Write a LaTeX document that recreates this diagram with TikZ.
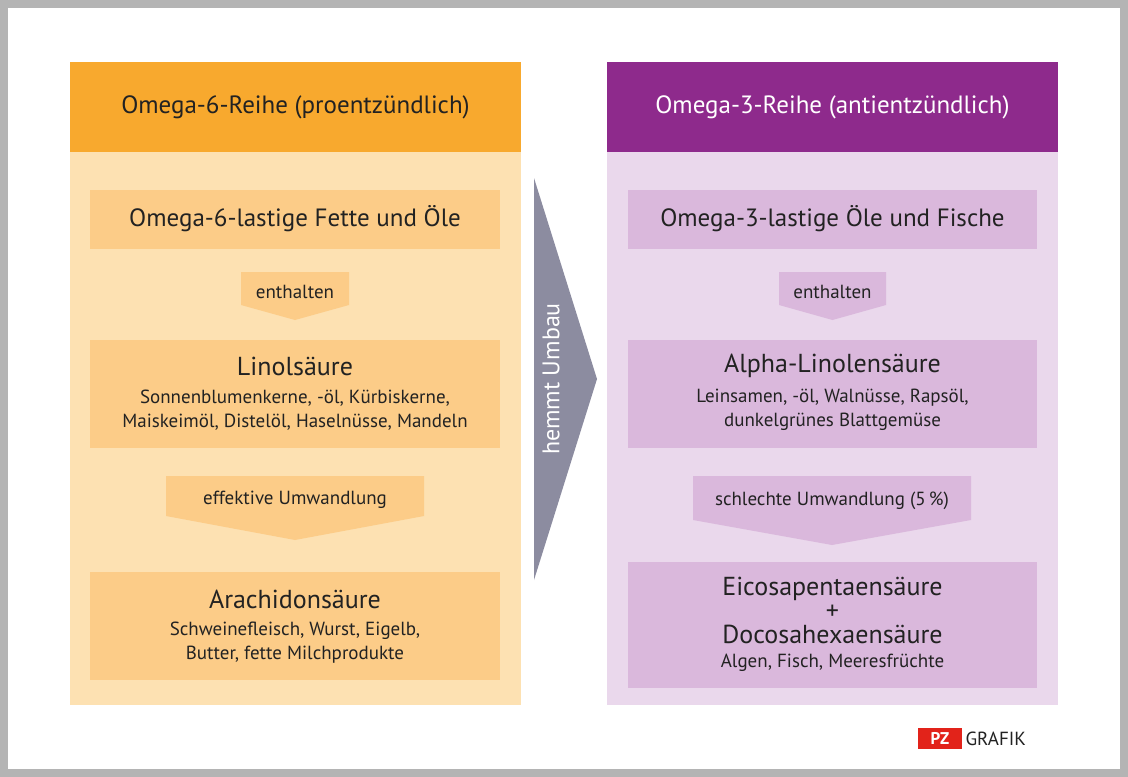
\documentclass[tikz,border=0pt]{standalone}
\usepackage{fontspec}
\setmainfont{PT Sans}
\definecolor{frameg}{HTML}{B4B4B4}
\definecolor{orH}{HTML}{F8A92E}
\definecolor{orB}{HTML}{FDE1B2}
\definecolor{orX}{HTML}{FCCC88}
\definecolor{puH}{HTML}{8E2A8C}
\definecolor{puB}{HTML}{EAD8EC}
\definecolor{puX}{HTML}{DAB8DC}
\definecolor{arrg}{HTML}{8C8CA0}
\definecolor{txt}{HTML}{222222}
\definecolor{pzred}{HTML}{E2231A}
\begin{document}
\begin{tikzpicture}[x=1pt,y=-1pt,
  tbig/.style={font=\fontsize{25}{28}\selectfont,text=txt},
  tsmall/.style={font=\fontsize{19}{24}\selectfont,text=txt,align=center},
  ttitle/.style={font=\fontsize{26}{28}\selectfont,text=txt}]
\fill[frameg] (0,0) rectangle (1128,777);
\fill[white] (8,8) rectangle (1120,769);
\useasboundingbox (0,0) rectangle (1128,777);
% left panel
\fill[orB] (70,62) rectangle (521,705);
\fill[orH] (70,62) rectangle (521,152);
\node[tbig] (lh) at (295.5,107) {Omega-6-Reihe (proentzündlich)};
\fill[orX] (90,190) rectangle (500,249);
\node[tbig] (l1) at (295,219) {Omega-6-lastige Fette und Öle};
\fill[orX] (241,272) -- (349,272) -- (349,305) -- (295,320) -- (241,305) -- cycle;
\node[tsmall] (la1) at (295,292) {enthalten};
\fill[orX] (90,340) rectangle (500,448);
\node[ttitle] (l2) at (295,366) {Linolsäure};
\node[tsmall] (l2t) at (295,410) {Sonnenblumenkerne, -öl, Kürbiskerne,\\Maiskeimöl, Distelöl, Haselnüsse, Mandeln};
\fill[orX] (166,476) -- (424,476) -- (424,516) -- (295,540) -- (166,516) -- cycle;
\node[tsmall] (la2) at (295,500) {effektive Umwandlung};
\fill[orX] (90,572) rectangle (500,680);
\node[ttitle] (l3) at (295,599) {Arachidonsäure};
\node[tsmall] (l3t) at (295,643) {Schweinefleisch, Wurst, Eigelb,\\Butter, fette Milchprodukte};
% middle arrow
\fill[arrg] (534,178) -- (597,379) -- (534,580) -- cycle;
\node[font=\fontsize{24}{26}\selectfont,text=white,rotate=90] (hm) at (551,379) {hemmt Umbau};
% right panel
\fill[puB] (607,62) rectangle (1058,705);
\fill[puH] (607,62) rectangle (1058,152);
\node[tbig,text=white] (rh) at (832.5,107) {Omega-3-Reihe (antientzündlich)};
\fill[puX] (628,190) rectangle (1037,249);
\node[tbig] (r1) at (832.5,219) {Omega-3-lastige Öle und Fische};
\fill[puX] (779,272) -- (886,272) -- (886,305) -- (832.5,320) -- (779,305) -- cycle;
\node[tsmall] (ra1) at (832.5,292) {enthalten};
\fill[puX] (628,340) rectangle (1037,448);
\node[ttitle] (r2) at (832.5,366) {Alpha-Linolensäure};
\node[tsmall] (r2t) at (832.5,410) {Leinsamen, -öl, Walnüsse, Rapsöl,\\dunkelgrünes Blattgemüse};
\fill[puX] (693,476) -- (971,476) -- (971,520) -- (832,545) -- (693,520) -- cycle;
\node[tsmall] (ra2) at (832,501) {schlechte Umwandlung (5\,\%)};
\fill[puX] (628,562) rectangle (1037,688);
\node[ttitle,align=center,font=\fontsize{26}{24}\selectfont] (r3) at (832.5,610) {Eicosapentaensäure\\+\\Docosahexaensäure};
\node[tsmall] (r3t) at (832.5,663) {Algen, Fisch, Meeresfrüchte};
% logo
\fill[pzred] (918,728) rectangle (962,749);
\node[font=\bfseries\fontsize{17}{18}\selectfont,text=white] (pz) at (940,738.5) {PZ};
\node[font=\fontsize{19}{20}\selectfont,text=txt,anchor=west] (gr) at (962,738.5) {GRAFIK};
\end{tikzpicture}
\end{document}
